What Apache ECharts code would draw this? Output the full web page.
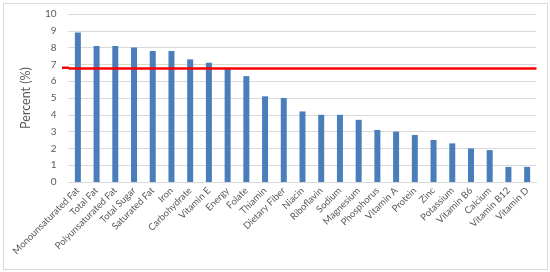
<!DOCTYPE html>
<html>
<head>
<meta charset="utf-8">
<script src="https://cdn.jsdelivr.net/npm/echarts@6/dist/echarts.min.js"></script>
<style>
  html, body { margin: 0; padding: 0; background: #fff; }
  #main { width: 550px; height: 272px; }
  #frame { position: absolute; left: 3px; top: 3px; width: 543px; height: 265px; border: 1px solid #d9d9d9; pointer-events: none; }
</style>
</head>
<body>
<div id="main"></div>
<div id="frame"></div>
<script>
// nutrients, sorted by share
var nutrients = ['Monounsaturated Fat', 'Total Fat', 'Polyunsaturated Fat', 'Total Sugar', 'Saturated Fat',
    'Iron', 'Carbohydrate', 'Vitamin E', 'Energy', 'Folate', 'Thiamin', 'Dietary Fiber', 'Niacin',
    'Riboflavin', 'Sodium', 'Magnesium', 'Phosphorus', 'Vitamin A', 'Protein', 'Zinc', 'Potassium',
    'Vitamin B6', 'Calcium', 'Vitamin B12', 'Vitamin D'];
var percent = [8.9, 8.1, 8.1, 8.0, 7.8, 7.8, 7.3, 7.1, 6.8, 6.3, 5.1, 5.0, 4.2,
    4.0, 4.0, 3.7, 3.1, 3.0, 2.8, 2.5, 2.3, 2.0, 1.9, 0.9, 0.9];
var refLine = 6.8;   // red reference line

var font = 'Lato';
var chart = echarts.init(document.getElementById('main'));
chart.setOption({
    backgroundColor: '#fff',
    animation: false,
    grid: { left: 68.5, right: 13.5, top: 14, bottom: 90 },
    xAxis: {
        type: 'category',
        data: nutrients,
        axisLine: { lineStyle: { color: '#d9d9d9' } },
        axisTick: { show: false },
        axisLabel: { interval: 0, rotate: 45, color: '#595959', fontFamily: font, fontSize: 9.5, margin: 7 }
    },
    yAxis: {
        type: 'value',
        min: 0, max: 10, interval: 1,
        name: 'Percent (%)',
        nameLocation: 'middle',
        nameGap: 36,
        nameTextStyle: { color: '#595959', fontFamily: font, fontSize: 12.5 },
        axisLine: { show: false },
        axisTick: { show: false },
        axisLabel: { color: '#595959', fontFamily: font, fontSize: 10, margin: 12 },
        splitLine: { lineStyle: { color: '#d9d9d9' } }
    },
    series: [{
        type: 'bar',
        data: percent,
        barWidth: 6,
        itemStyle: { color: '#4a7ebb' },
        markLine: {
            symbol: 'none',
            silent: true,
            label: { show: false },
            lineStyle: { color: '#ff0000', width: 2.5, type: 'solid' },
            data: [{ yAxis: refLine }]
        }
    }]
});

// the reference line sticks out a little to the left of the grid
var yPix = chart.convertToPixel({ yAxisIndex: 0 }, refLine);
chart.setOption({
    graphic: [{
        type: 'line',
        silent: true,
        shape: { x1: 62, y1: yPix, x2: 69, y2: yPix },
        style: { stroke: '#ff0000', lineWidth: 2.5 }
    }]
});
</script>
</body>
</html>
